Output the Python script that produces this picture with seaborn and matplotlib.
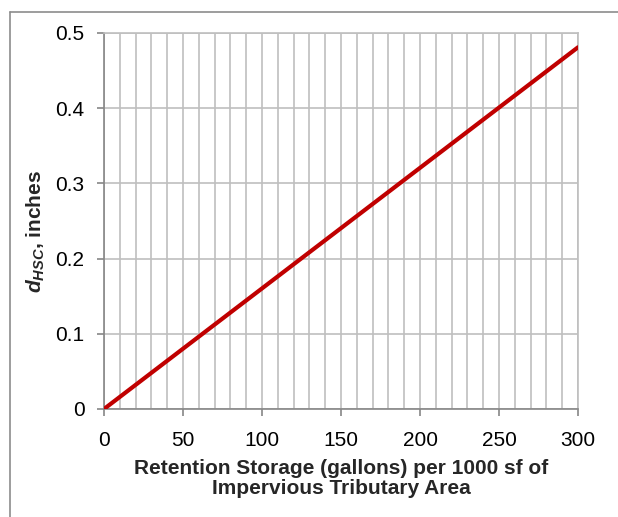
import matplotlib
matplotlib.use("Agg")
import matplotlib.pyplot as plt
from matplotlib.lines import Line2D
from matplotlib.ticker import MultipleLocator
import seaborn as sns
import pandas as pd

# Retention storage volume vs. equivalent depth over impervious area
storage_gal = [0, 300]
depth_in = [0.0, 0.481]

x_ticks = [0, 50, 100, 150, 200, 250, 300]
y_ticks = [0, 0.1, 0.2, 0.3, 0.4, 0.5]
y_tick_labels = ["0", "0.1", "0.2", "0.3", "0.4", "0.5"]

df = pd.DataFrame({"storage": storage_gal, "depth": depth_in})

sns.set_theme(style="white")
plt.rcParams["font.family"] = ["Liberation Sans", "DejaVu Sans"]
plt.rcParams["mathtext.fontset"] = "custom"
plt.rcParams["mathtext.it"] = "Liberation Sans:italic:bold"
plt.rcParams["mathtext.rm"] = "Liberation Sans:bold"

fig = plt.figure(figsize=(6.18, 5.17), dpi=100)
ax = fig.add_axes([104 / 618, 1 - 409 / 517, 474 / 618, 376 / 517])

sns.lineplot(data=df, x="storage", y="depth", ax=ax, color="#c00000",
             linewidth=3.0, zorder=5)

ax.set_xlim(0, 300)
ax.set_ylim(0, 0.5)
ax.set_xticks(x_ticks)
ax.set_yticks(y_ticks)
ax.set_yticklabels(y_tick_labels)
ax.xaxis.set_minor_locator(MultipleLocator(10))

grid_c = "#bfbfbf"
ax.grid(True, which="major", axis="y", color=grid_c, linewidth=1.2)
ax.grid(True, which="both", axis="x", color=grid_c, linewidth=1.2)
ax.set_axisbelow(True)

for side in ["top", "right"]:
    ax.spines[side].set_color(grid_c)
    ax.spines[side].set_linewidth(1.2)
for side in ["left", "bottom"]:
    ax.spines[side].set_color("#868686")
    ax.spines[side].set_linewidth(1.2)

ax.tick_params(axis="both", which="major", direction="out", length=5,
               width=1.2, color="#868686", labelsize=15,
               labelcolor="black", left=True, bottom=True)
ax.tick_params(axis="x", which="minor", length=0)
ax.tick_params(axis="x", which="major", pad=11)
ax.tick_params(axis="y", which="major", pad=9)

ax.set_xlabel("Retention Storage (gallons) per 1000 sf of\nImpervious Tributary Area",
              fontsize=15, fontweight="bold", labelpad=6, linespacing=1.12)
ax.set_ylabel(r"$d_{HSC}$, inches", fontsize=15, fontweight="bold")
ax.yaxis.set_label_coords(-0.12, 0.473)

# outer chart-area frame
fig.add_artist(Line2D([10 / 618, 10 / 618], [0, 1 - 12 / 517],
                      transform=fig.transFigure, color="#8c8c8c", linewidth=1.2))
fig.add_artist(Line2D([10 / 618, 1], [1 - 12 / 517, 1 - 12 / 517],
                      transform=fig.transFigure, color="#8c8c8c", linewidth=1.2))

fig.savefig("out.png", dpi=100)
